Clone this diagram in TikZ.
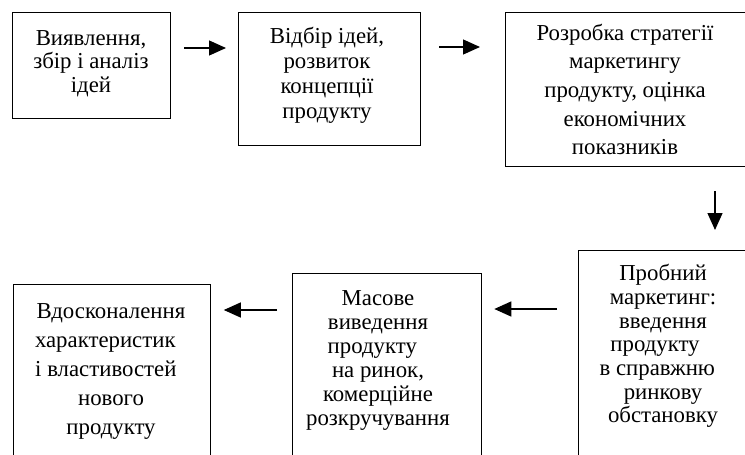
\documentclass[tikz,border=0pt]{standalone}
\usepackage{fontspec}
\setmainfont{Liberation Serif}
\usetikzlibrary{arrows.meta}
\tikzset{
  stagebox/.style={draw=black, line width=1.3pt, rectangle, inner sep=0pt, anchor=north west},
  stagetext/.style={align=center, inner sep=0pt, text=black},
  flowarrow/.style={line width=1.3pt, -{Triangle[length=17pt,width=15pt]}},
}
\newcommand{\fsz}[1]{\fontsize{22.8}{#1}\selectfont}
\begin{document}
\begin{tikzpicture}[x=1pt,y=-1pt]
\useasboundingbox (0,0) rectangle (745,455);
\clip (0,0) rectangle (745,455);
% boxes
\node[stagebox, minimum width=158pt, minimum height=106pt] (b1) at (12,12) {};
\node[stagebox, minimum width=182pt, minimum height=133pt] (b2) at (238,12) {};
\node[stagebox, minimum width=250pt, minimum height=154pt] (b3) at (505,12) {};
\node[stagebox, minimum width=180pt, minimum height=230pt] (b4) at (578,250) {};
\node[stagebox, minimum width=189pt, minimum height=210pt] (b5) at (292,273) {};
\node[stagebox, minimum width=197pt, minimum height=200pt] (b6) at (12.5,284) {};
% texts
\node[stagetext, font=\fsz{23.5}] (t1) at (91,63.5) {Виявлення,\\збір і аналіз\\ідей};
\node[stagetext, font=\fsz{25}] (t2) at (327,75.5) {Відбір ідей,\\розвиток\\концепції\\продукту};
\node[stagetext, font=\fsz{28.7}] (t3) at (625,89.5) {Розробка стратегії\\маркетингу\\продукту, оцінка\\економічних\\показників};
\node[stagetext, font=\fsz{23.7}] (t4) at (663,346) {Пробний\\маркетинг:\\введення\\продукту\kern0.7em\\в справжню\kern0.5em\\ринкову\\обстановку};
\node[stagetext, font=\fsz{24}] (t5) at (378,360) {Масове\\виведення\\продукту\kern0.5em\\на ринок,\\комерційне\\розкручування};
\node[stagetext, font=\fsz{29}] (t6) at (111,371.5) {Вдосконалення\\характеристик\kern0.5em\\і властивостей\kern0.45em\\нового\\продукту};
% arrow levels
\coordinate (r1) at (0,48);
\coordinate (r2) at (0,47);
\coordinate (dx) at (715,0);
\coordinate (r3) at (0,309);
\coordinate (r4) at (0,310);
% connectors
\draw[flowarrow, shorten <=13pt, shorten >=12pt] (b1.east |- r1) -- (b2.west |- r1);
\draw[flowarrow, shorten <=18pt, shorten >=25pt] (b2.east |- r2) -- (b3.west |- r2);
\draw[flowarrow, shorten <=24pt, shorten >=20pt] (b3.south -| dx) -- (b4.north -| dx);
\draw[flowarrow, shorten <=21pt, shorten >=12pt] (b4.west |- r3) -- (b5.east |- r3);
\draw[flowarrow, shorten <=15pt, shorten >=13pt] (b5.west |- r4) -- (b6.east |- r4);
\end{tikzpicture}
\end{document}
